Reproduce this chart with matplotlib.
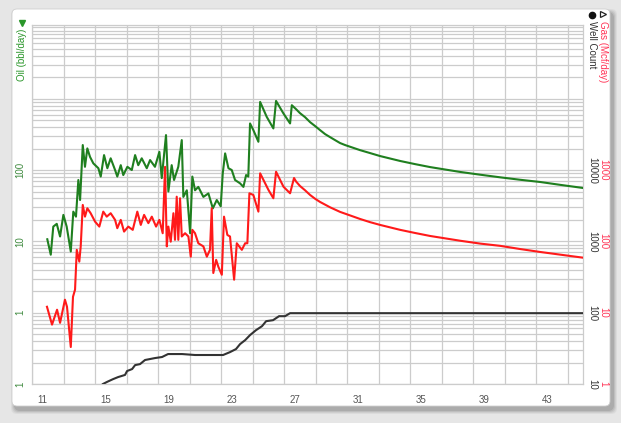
import matplotlib
matplotlib.use('Agg')
import matplotlib.pyplot as plt
from matplotlib.patches import FancyBboxPatch
from matplotlib.lines import Line2D
from matplotlib.ticker import FixedLocator, LogLocator, NullFormatter
import matplotlib.transforms as mtransforms

plt.rcParams['font.family'] = ['Liberation Sans', 'DejaVu Sans']

# ---------------- data ----------------
oil_x = [11.97, 12.19, 12.35, 12.57, 12.78, 12.99, 13.20, 13.46, 13.62, 13.79, 13.94, 14.05,
         14.22, 14.36, 14.51, 14.68, 14.89, 15.21, 15.36, 15.57, 15.78, 15.99, 16.27, 16.41,
         16.63, 16.79, 17.05, 17.33, 17.54, 17.74, 17.96, 18.28, 18.49, 18.80, 19.08, 19.23,
         19.50, 19.65, 19.86, 20.01, 20.28, 20.50, 20.60, 20.82, 21.03, 21.17, 21.34, 21.55,
         21.87, 22.19, 22.47, 22.72, 22.97, 23.10, 23.25, 23.46, 23.67, 23.88, 24.20, 24.41,
         24.58, 24.72, 24.83, 25.04, 25.36, 25.47, 25.89, 26.31, 26.48, 26.95, 27.37, 27.48,
         27.75, 28.00, 28.32, 28.64, 28.96, 29.27, 29.59, 29.91, 30.22, 30.54, 30.86, 31.81,
         32.44, 33.08, 34.35, 35.30, 36.25, 38.16, 39.43, 40.70, 41.97, 43.23, 44.50, 45.96]
oil_y = [10.7, 6.5, 16.1, 17.6, 11.7, 23.5, 16.1, 7.2, 26.1, 22.2, 72.5, 38,
         224, 111, 201, 153, 124, 106, 81, 162, 106, 146, 100, 81,
         117, 85, 111, 100, 162, 117, 146, 106, 138, 111, 180, 77,
         309, 50, 117, 72.5, 111, 263, 42, 52, 13, 81, 52, 58,
         42, 47, 29, 38, 31, 90, 171, 106, 100, 72.5, 65, 58,
         85, 81, 450, 363, 249, 902, 556, 383, 931, 621, 450, 811,
         713, 627, 551, 469, 413, 363, 319, 289, 263, 239, 224, 190,
         173, 157, 134, 121, 110, 94, 86, 79, 73, 68, 62, 56]

gas_x = [11.95, 12.27, 12.59, 12.78, 13.09, 13.22, 13.46, 13.60, 13.73, 13.84, 14.00, 14.09,
         14.22, 14.36, 14.51, 14.72, 15.00, 15.27, 15.52, 15.74, 15.99, 16.27, 16.41, 16.63,
         16.84, 17.11, 17.39, 17.68, 17.90, 18.11, 18.38, 18.60, 18.87, 19.08, 19.29, 19.44,
         19.55, 19.65, 19.80, 19.97, 20.07, 20.18, 20.28, 20.39, 20.50, 20.71, 20.92, 21.07,
         21.17, 21.34, 21.55, 21.87, 22.09, 22.29, 22.40, 22.50, 22.68, 22.82, 23.04, 23.18,
         23.39, 23.56, 23.82, 23.99, 24.31, 24.52, 24.66, 24.79, 25.04, 25.36, 25.47, 26.00,
         26.31, 26.48, 26.95, 27.37, 27.62, 27.75, 28.00, 28.32, 28.64, 28.96, 29.27, 29.91,
         30.54, 31.81, 32.44, 33.08, 34.35, 35.30, 36.25, 38.16, 39.43, 40.70, 41.97, 43.23,
         45.96]
gas_y = [12.1, 6.8, 11.0, 7.2, 15.2, 12.1, 3.3, 16.7, 21, 76, 52, 85,
         324, 222, 291, 248, 189, 161, 261, 222, 248, 200, 153, 200,
         137, 161, 145, 261, 170, 235, 180, 222, 161, 200, 130, 1110,
         85, 161, 99, 248, 105, 423, 105, 402, 117, 130, 117, 61,
         145, 130, 94, 85, 61, 76, 291, 36, 55, 44, 34, 222,
         123, 117, 29, 94, 76, 94, 94, 472, 447, 261, 900, 525,
         402, 947, 584, 472, 773, 690, 597, 520, 447, 395, 357, 300,
         259, 206, 186, 170, 145, 131, 119, 102, 93, 86.5, 78, 71,
         59]

wells_x = [15.50, 15.76, 16.14, 16.46, 16.90, 17.03, 17.35, 17.54, 17.85, 18.17, 18.49, 18.80,
           19.25, 19.63, 20.52, 21.34, 23.12, 23.56, 23.94, 24.20, 24.52, 24.83, 25.21, 25.59,
           25.85, 26.29, 26.67, 27.05, 27.37, 45.96]
wells_y = [10, 10.7, 11.7, 12.5, 13.4, 15.2, 16.2, 18.4, 19.0, 21.7, 22.4, 23.1,
           23.9, 26.3, 26.3, 25.5, 25.5, 28.0, 30.9, 36.3, 41.2, 48.5, 56.9, 64.7,
           76, 78.5, 89.3, 89.3, 98.4, 98.4]

x_major = [11, 15, 19, 23, 27, 31, 35, 39, 43]
x_minor = [13, 17, 21, 25, 29, 33, 37, 41, 45]
oil_ticks = [0.1, 1, 10, 100]
oil_labels = ['1', '1', '10', '100']
gas_ticks = [1, 10, 100, 1000]
gas_labels = ['1', '10', '100', '1000']
well_ticks = [10, 100, 1000, 10000]
well_labels = ['10', '100', '1000', '10000']

# ---------------- figure ----------------
W, H = 621, 423
fig = plt.figure(figsize=(W / 100, H / 100), dpi=100)
fig.patch.set_facecolor('#e6e6e6')

def px(x, y):
    return x / W, 1 - y / H

# shadow + panel (inches coordinates)
for i, a in enumerate([0.08, 0.10, 0.14, 0.20]):
    off = (4 - i) / 100
    sh = FancyBboxPatch((0.12 + 0.03, 0.17 - 0.04), 5.98, 3.97,
                        boxstyle='round,pad=%f,rounding_size=0.06' % off,
                        transform=fig.dpi_scale_trans, facecolor='#606060',
                        edgecolor='none', alpha=a, zorder=-12)
    fig.patches.append(sh)
panel = FancyBboxPatch((0.12, 0.17), 5.98, 3.97, boxstyle='round,pad=0,rounding_size=0.05',
                       transform=fig.dpi_scale_trans, facecolor='white',
                       edgecolor='#d0d0d0', lw=0.6, zorder=-10)
fig.patches.append(panel)

left, right, top, bottom = 32, 583, 25, 384
ax = fig.add_axes([left / W, 1 - bottom / H, (right - left) / W, (bottom - top) / H])
ax.set_facecolor('white')

ymin, ymax = 0.1, 1.08e4
ax.set_yscale('log')
ax.set_ylim(ymin, ymax)
ax.set_xlim(11, 45.95)

grid_c = '#cccccc'
ax.xaxis.set_major_locator(FixedLocator(x_major))
ax.xaxis.set_minor_locator(FixedLocator(x_minor))
ax.yaxis.set_minor_locator(LogLocator(base=10, subs=range(2, 10)))
ax.yaxis.set_minor_formatter(NullFormatter())
ax.grid(True, which='both', color=grid_c, lw=0.9)
ax.set_axisbelow(True)
ax.set_xticks(x_major)
ax.set_xticklabels([str(v) for v in x_major])
ax.set_yticks(oil_ticks)
ax.set_yticklabels(oil_labels)
for d in [1000, 10000]:
    ax.axhline(d, color=grid_c, lw=0.9, zorder=0)

ax.tick_params(axis='both', which='both', length=0)
ax.tick_params(axis='x', pad=8, labelsize=7, labelcolor='#555555')
ax.tick_params(axis='y', pad=5, labelsize=7, labelcolor='#3f8a3f', labelrotation=90)
for lbl in ax.get_yticklabels():
    lbl.set_va('center')
offset = mtransforms.ScaledTranslation(5 / 100, 0, fig.dpi_scale_trans)
for lbl in ax.get_xticklabels():
    lbl.set_ha('left')
    lbl.set_transform(lbl.get_transform() + offset)
for s in ax.spines.values():
    s.set_color(grid_c)
    s.set_linewidth(0.9)

ax.plot(oil_x, oil_y, color='#1f7f1f', lw=1.5, zorder=3)

# gas axis
ax2 = ax.twinx()
ax2.set_yscale('log')
ax2.set_ylim(ymin * 10, ymax * 10)
ax2.plot(gas_x, gas_y, color='#ff1a1a', lw=1.5, zorder=3)
ax2.yaxis.set_major_locator(FixedLocator(gas_ticks))
ax2.yaxis.set_minor_locator(FixedLocator([]))
ax2.set_yticklabels(gas_labels)
ax2.tick_params(axis='y', length=0, pad=11, labelsize=7, labelcolor='#ff3355', labelrotation=-90)
for lbl in ax2.get_yticklabels():
    lbl.set_va('center')
for s in ax2.spines.values():
    s.set_visible(False)

# well count axis
ax3 = ax.twinx()
ax3.set_yscale('log')
ax3.set_ylim(ymin * 100, ymax * 100)
ax3.plot(wells_x, wells_y, color='#333333', lw=1.5, zorder=3)
ax3.yaxis.set_major_locator(FixedLocator(well_ticks))
ax3.yaxis.set_minor_locator(FixedLocator([]))
ax3.set_yticklabels(well_labels)
ax3.tick_params(axis='y', length=0, pad=3, labelsize=7, labelcolor='#333333', labelrotation=-90)
for lbl in ax3.get_yticklabels():
    lbl.set_va('center')
for s in ax3.spines.values():
    s.set_visible(False)

# axis titles
fig.text(*px(22, 29), 'Oil (bbl/day)', rotation=90, ha='center', va='top',
         fontsize=7, color='#2a962a')
fig.add_artist(Line2D([22 / W], [1 - 23 / H], marker='v', color='#2a962a', ms=5,
                      transform=fig.transFigure, ls='none'))
fig.text(*px(603, 21), 'Gas (Mcf/day)', rotation=-90, ha='center', va='top',
         fontsize=7, color='#ff3355')
fig.add_artist(Line2D([603 / W], [1 - 14 / H], marker='>', mfc='white', mec='#222222',
                      ms=5, mew=0.9, transform=fig.transFigure, ls='none'))
fig.text(*px(592, 21), 'Well Count', rotation=-90, ha='center', va='top',
         fontsize=7, color='#333333')
fig.add_artist(Line2D([592 / W], [1 - 15 / H], marker='o', color='#111111', ms=4.5,
                      transform=fig.transFigure, ls='none'))

fig.savefig('out.png', dpi=100, facecolor=fig.get_facecolor())
